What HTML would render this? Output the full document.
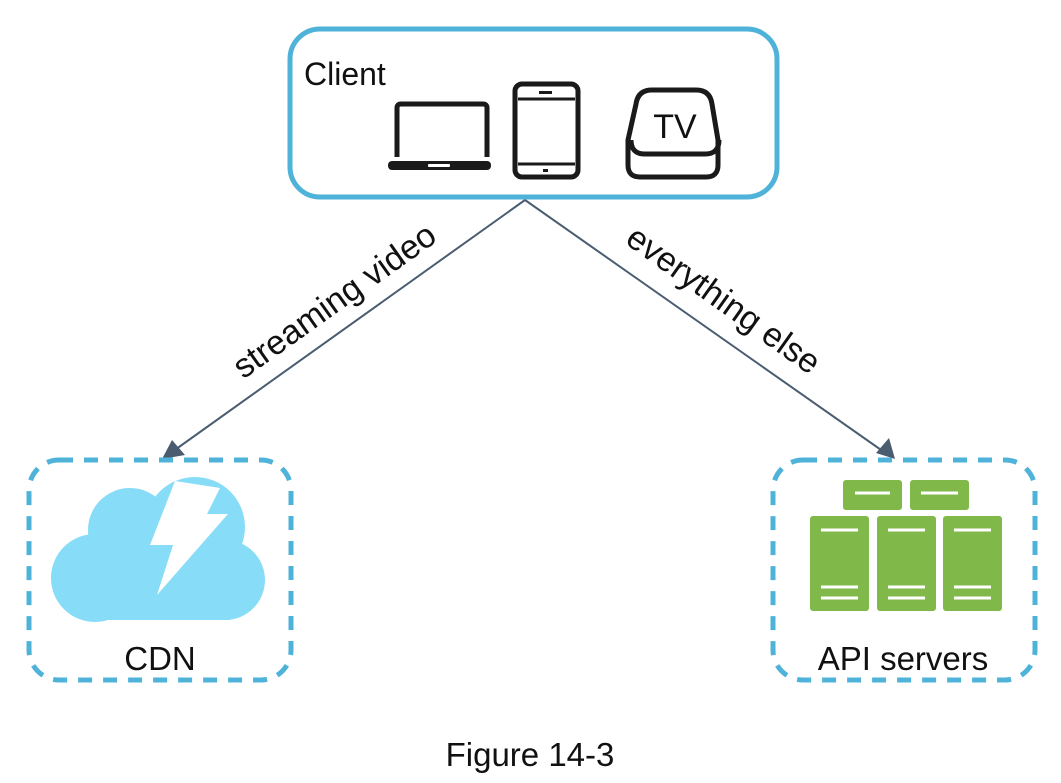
<!DOCTYPE html>
<html><head><meta charset="utf-8"><style>
html,body{margin:0;padding:0;background:#fff;}
svg{display:block;}
text{font-family:"Liberation Sans",Arial,sans-serif;fill:#111;}
</style></head><body>
<svg width="1061" height="783" viewBox="0 0 1061 783" xmlns="http://www.w3.org/2000/svg">
<rect x="290" y="29" width="487" height="168" rx="30" fill="#fff" stroke="#4fb3d9" stroke-width="5"/>
<text x="304" y="85" font-size="32">Client</text>
<path d="M397 157 V108 q0-4 4-4 h82 q4 0 4 4 V157" fill="none" stroke="#1a1a1a" stroke-width="5"/>
<rect x="388" y="161" width="103" height="9" rx="4" fill="#1a1a1a"/>
<rect x="428" y="164" width="22" height="3" rx="1" fill="#fff"/>
<rect x="515" y="84" width="63" height="93" rx="7" fill="none" stroke="#1a1a1a" stroke-width="5"/>
<line x1="518" y1="99" x2="575" y2="99" stroke="#1a1a1a" stroke-width="3"/>
<line x1="518" y1="164" x2="575" y2="164" stroke="#1a1a1a" stroke-width="3"/>
<rect x="539" y="91" width="13" height="3" fill="#1a1a1a"/>
<rect x="543" y="169" width="5" height="3" fill="#1a1a1a"/>
<path d="M636 104 q2-14 16-14 h44 q14 0 16 14 l6 36 v25 q0 12-12 12 h-66 q-12 0-12-12 v-25 z" fill="none" stroke="#1a1a1a" stroke-width="5"/>
<path d="M631 140 q0 14 14 14 h60 q14 0 14-14" fill="none" stroke="#1a1a1a" stroke-width="5"/>
<text x="675" y="138" font-size="34" text-anchor="middle">TV</text>
<line x1="525" y1="200" x2="172" y2="452" stroke="#4a5d70" stroke-width="2"/>
<polygon points="162,459 172,440 185,455" fill="#4a5d70"/>
<line x1="525" y1="200" x2="884" y2="452" stroke="#4a5d70" stroke-width="2"/>
<polygon points="895,459 876,453 889,438" fill="#4a5d70"/>
<text x="0" y="0" font-size="34" text-anchor="middle" transform="translate(341,310) rotate(-35.5)">streaming video</text>
<text x="0" y="0" font-size="34" text-anchor="middle" transform="translate(717,309) rotate(35.5)">everything else</text>
<rect x="29" y="460" width="262" height="220" rx="30" fill="none" stroke="#4fb3d9" stroke-width="5" stroke-dasharray="14 11"/>
<g fill="#87dcf7">
<circle cx="95" cy="578" r="44"/>
<circle cx="130" cy="530" r="42"/>
<circle cx="195" cy="527" r="50"/>
<circle cx="225" cy="580" r="40"/>
<rect x="95" y="560" width="135" height="60"/>
</g>
<polygon points="175,481 150,545 173,545 157,595 228,514 207,514 220,488" fill="#fff"/>
<text x="160" y="670" font-size="33" text-anchor="middle">CDN</text>
<rect x="773" y="460" width="262" height="220" rx="30" fill="none" stroke="#4fb3d9" stroke-width="5" stroke-dasharray="14 11"/>
<g fill="#80b84a">
<rect x="843" y="480" width="59" height="30" rx="3"/>
<rect x="910" y="480" width="59" height="30" rx="3"/>
<rect x="810" y="516" width="59" height="95" rx="3"/>
<rect x="877" y="516" width="59" height="95" rx="3"/>
<rect x="943" y="516" width="59" height="95" rx="3"/>
</g>
<g stroke="#fff" stroke-width="3">
<line x1="855" y1="493" x2="890" y2="493"/><line x1="921" y1="493" x2="958" y2="493"/>
<line x1="821" y1="530" x2="858" y2="530"/><line x1="888" y1="530" x2="925" y2="530"/><line x1="954" y1="530" x2="991" y2="530"/>
<line x1="821" y1="587" x2="858" y2="587"/><line x1="888" y1="587" x2="925" y2="587"/><line x1="954" y1="587" x2="991" y2="587"/>
<line x1="821" y1="598" x2="858" y2="598"/><line x1="888" y1="598" x2="925" y2="598"/><line x1="954" y1="598" x2="991" y2="598"/>
</g>
<text x="903" y="670" font-size="33" text-anchor="middle">API servers</text>
<text x="530" y="766" font-size="33" text-anchor="middle">Figure 14-3</text>
</svg>
</body></html>
